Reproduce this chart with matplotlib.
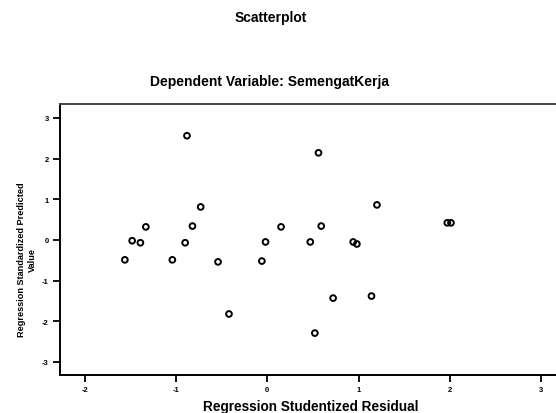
import matplotlib
matplotlib.use("Agg")
import matplotlib.pyplot as plt

# Regression Studentized Residual (x) vs Regression Standardized Predicted Value (y)
resid = [-0.88, 0.56, -0.73, 1.20, -1.33, -0.82, 0.15, 0.59, 1.97, 2.01,
         -1.48, -1.39, -0.90, -0.02, 0.47, 0.94, 0.98, -1.56, -1.04, -0.54,
         -0.06, -0.42, 0.52, 0.72, 1.14]
pred = [2.56, 2.14, 0.81, 0.86, 0.32, 0.34, 0.32, 0.34, 0.42, 0.42,
        -0.02, -0.07, -0.07, -0.05, -0.05, -0.05, -0.10, -0.49, -0.49, -0.54,
        -0.52, -1.82, -2.29, -1.43, -1.38]
xticks = [-2, -1, 0, 1, 2, 3]
yticks = [-3, -2, -1, 0, 1, 2, 3]

plt.rcParams['font.family'] = ['Liberation Sans', 'DejaVu Sans']

W, H = 556, 414
fig = plt.figure(figsize=(W / 100, H / 100), dpi=100)
left, right, top, bottom = 60, 556, 105, 376
ax = fig.add_axes([left / W, 1 - bottom / H, (right - left) / W, (bottom - top) / H])

ax.scatter(resid, pred, s=17, facecolors='none', edgecolors='black', linewidths=1.4, zorder=3)

ax.set_xlim(-2.27, 3.16)
ax.set_ylim(-3.32, 3.34)
ax.set_xticks(xticks)
ax.set_yticks(yticks)
ax.set_xticklabels([str(t) for t in xticks], fontsize=5.5, fontweight='bold')
ax.set_yticklabels([str(t) for t in yticks], fontsize=5.5, fontweight='bold')
ax.tick_params(direction='out', length=5, width=1.3, pad=3, color='black')

for s in ['left', 'bottom']:
    ax.spines[s].set_linewidth(1.4)
    ax.spines[s].set_color('black')
ax.spines['top'].set_linewidth(1.4)
ax.spines['top'].set_color('#444444')
ax.spines['right'].set_visible(False)

fig.text(271 / W, 1 - 18 / H, 'Scatterplot', ha='center', va='center',
         fontsize=10, fontweight='bold')
fig.text(270 / W, 1 - 82 / H, 'Dependent Variable: SemengatKerja', ha='center', va='center',
         fontsize=10, fontweight='bold')
fig.text(311 / W, 1 - 407 / H, 'Regression Studentized Residual', ha='center', va='center',
         fontsize=9.8, fontweight='bold')
fig.text(27 / W, 1 - 260 / H, 'Regression Standardized Predicted\nValue', ha='center', va='center',
         rotation=90, fontsize=6.6, fontweight='bold', linespacing=1.4)

fig.savefig('out.png', dpi=100)
